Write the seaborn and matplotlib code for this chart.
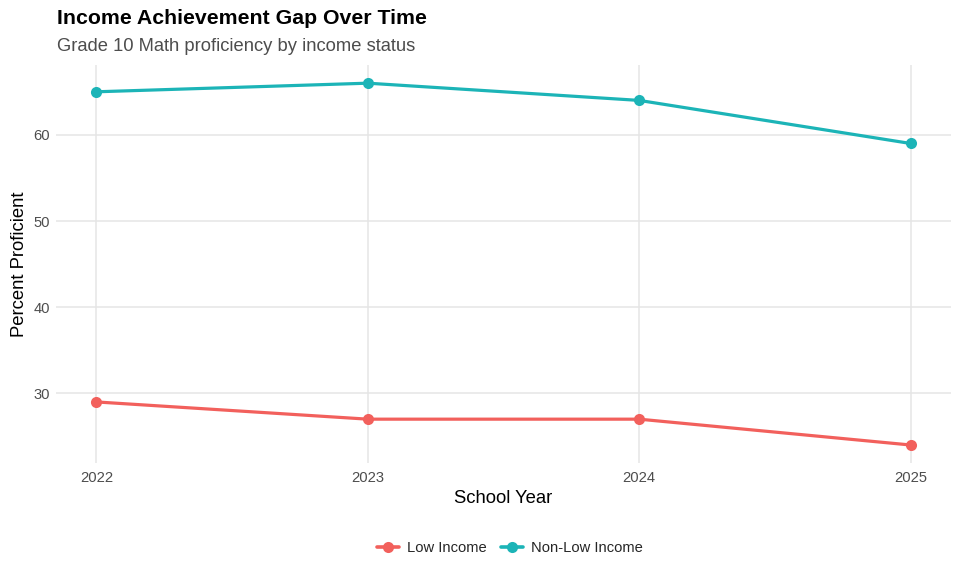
import matplotlib
matplotlib.use("Agg")
import matplotlib.pyplot as plt
import pandas as pd
import seaborn as sns

years = [2022, 2023, 2024, 2025]
low_income = [29, 27, 27, 24]
non_low_income = [65, 66, 64, 59]
groups = ["Low Income", "Non-Low Income"]
colors = ["#F2605C", "#1CB4B7"]

df = pd.DataFrame({
    "year": years * 2,
    "pct": low_income + non_low_income,
    "group": [groups[0]] * 4 + [groups[1]] * 4,
})

sns.set_theme(style="white")
plt.rcParams["font.family"] = ["Liberation Sans", "DejaVu Sans"]

fig = plt.figure(figsize=(9.6, 5.76), dpi=100)
ax = fig.add_axes([0.058, 0.196, 0.933, 0.691])

sns.lineplot(data=df, x="year", y="pct", hue="group", palette=colors,
             linewidth=2.3, marker="o", markersize=8, markeredgewidth=0,
             ax=ax, legend=False)

ax.set_xlim(2021.85, 2025.15)
ax.set_ylim(21.9, 68.1)
ax.set_xticks(years)
ax.set_xticklabels([str(y) for y in years])
ax.set_yticks([30, 40, 50, 60])
ax.grid(True, color="#e5e5e5", linewidth=1.1)
ax.set_axisbelow(True)
for s in ax.spines.values():
    s.set_visible(False)
ax.tick_params(axis="both", length=0, labelsize=10.6, colors="#4d4d4d")
ax.tick_params(axis="x", pad=6)
ax.tick_params(axis="y", pad=4)
ax.set_xlabel("School Year", fontsize=13.3, color="black", labelpad=3)
ax.set_ylabel("Percent Proficient", fontsize=13.3, color="black", labelpad=4)

fig.text(0.059, 0.968, "Income Achievement Gap Over Time", fontsize=15.3,
         fontweight="bold", ha="left", va="center", color="black")
fig.text(0.059, 0.920, "Grade 10 Math proficiency by income status", fontsize=13.2,
         ha="left", va="center", color="#4d4d4d")

handles = [plt.Line2D([0], [0], color=c, linewidth=2.6, marker="o", markersize=8,
                      markeredgewidth=0) for c in colors]
fig.legend(handles, groups, loc="center", bbox_to_anchor=(0.531, 0.048), ncol=2,
           frameon=False, fontsize=10.6, handlelength=1.5, columnspacing=1.0,
           handletextpad=0.5)

fig.savefig("out.png", dpi=100)
